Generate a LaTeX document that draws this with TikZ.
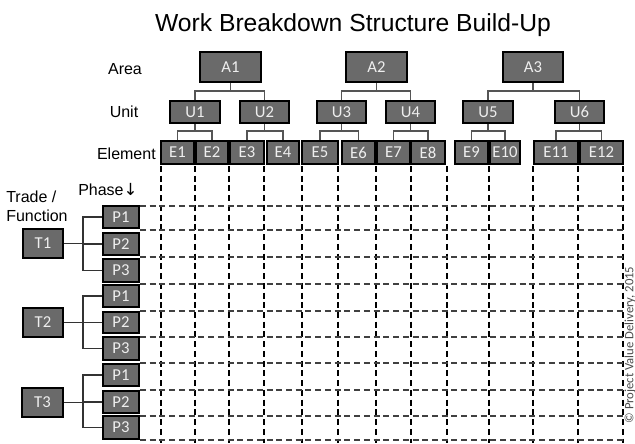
\documentclass[tikz,border=0pt]{standalone}
\usepackage{fontspec}
\setmainfont{Liberation Sans}
\newfontfamily\boxfont{Carlito}
\newfontfamily\arrfont{DejaVu Sans}
\definecolor{boxgray}{RGB}{106,106,106}
\definecolor{boxtext}{RGB}{238,238,238}
\definecolor{linegray}{RGB}{85,85,85}
\newcommand\wbsbox[6]{\node[bx,minimum width={(#4-#2)*0.75pt},minimum height={(#5-#3)*0.75pt}] (#1) at ({(#2+#4)/2},{(#3+#5)/2}) {#6};}
\begin{document}
\begin{tikzpicture}[x=0.75pt,y=-0.75pt,
 bx/.style={draw=black,fill=boxgray,line width=1.4pt,inner sep=0pt,text=boxtext,font=\boxfont\fontsize{12.5}{14}\selectfont},
 conn/.style={draw=linegray,line width=0.8pt},
 tconn/.style={draw=black!80,line width=0.8pt},
 lbl/.style={font=\fontsize{12}{14.25}\selectfont,inner sep=0pt},
 vgrid/.style={draw=black,line width=0.9pt,dash pattern=on 4.5pt off 2.8pt},
 hgrid/.style={draw=black!75,line width=0.9pt,dash pattern=on 4.5pt off 2.8pt}]
\useasboundingbox[fill=white] (0,0) rectangle (635,443);

% grid
\foreach \x in {161,195,229,264,302,338,376,411,447,489,533,578,623}
  \draw[vgrid] (\x,166) -- (\x,443);
\foreach \y in {206,230,257,284,311,337,363,390,416,440}
  \draw[hgrid] (140,\y) -- (623,\y);

% title and labels
\node[font=\fontsize{18.5}{22}\selectfont,inner sep=0pt] (title) at (353,25) {Work Breakdown Structure Build-Up};
\node[lbl] (area) at (125,69) {Area};
\node[lbl] (unit) at (124,112) {Unit};
\node[lbl,anchor=east] (elem) at (156,154) {Element};
\node[lbl,align=left,anchor=west] (trade) at (6,206.5) {Trade /\\Function};
\node[lbl,anchor=west] (phase) at (78,189) {Phase{\arrfont\fontsize{12.5}{12}\selectfont ↓}};
\node[rotate=90,font=\boxfont\fontsize{9.5}{11}\selectfont,text=black!70,inner sep=0pt] (copy) at (630,345) {© Project Value Delivery, 2015};

% areas
\wbsbox{A1}{200}{52}{261}{82}{A1}
\wbsbox{A2}{346}{52}{407}{82}{A2}
\wbsbox{A3}{503}{52}{563}{82}{A3}
% units
\wbsbox{U1}{170}{101}{220}{123}{U1}
\wbsbox{U2}{240}{101}{289}{123}{U2}
\wbsbox{U3}{317}{101}{366}{123}{U3}
\wbsbox{U4}{386}{101}{435}{123}{U4}
\wbsbox{U5}{463}{101}{513}{123}{U5}
\wbsbox{U6}{555}{101}{604}{123}{U6}
% elements
\wbsbox{E1}{161}{141}{194}{164}{E1}
\wbsbox{E2}{196}{141}{228}{164}{E2}
\wbsbox{E3}{230}{141}{264}{164}{E3}
\wbsbox{E4}{267}{141}{299}{164}{E4}
\wbsbox{E5}{302}{141}{338}{164}{E5}
\wbsbox{E6}{342}{141}{375}{164}{E6}
\wbsbox{E7}{377}{141}{410}{164}{E7}
\wbsbox{E8}{411}{141}{445}{164}{E8}
\wbsbox{E9}{455}{141}{488}{164}{E9}
\wbsbox{E10}{490}{141}{520}{164}{E10}
\wbsbox{E11}{534}{141}{578}{164}{E11}
\wbsbox{E12}{580}{141}{623}{164}{E12}
% trades
\wbsbox{T1}{23}{229}{63}{258}{T1}
\wbsbox{T2}{23}{308}{63}{337}{T2}
\wbsbox{T3}{22}{388}{63}{417}{T3}
% phases
\wbsbox{T1P1}{103}{206}{139}{228}{P1}
\wbsbox{T1P2}{103}{233}{139}{255}{P2}
\wbsbox{T1P3}{103}{259}{139}{282}{P3}
\wbsbox{T2P1}{103}{285}{139}{307}{P1}
\wbsbox{T2P2}{103}{312}{139}{333}{P2}
\wbsbox{T2P3}{103}{337}{139}{360}{P3}
\wbsbox{T3P1}{103}{364}{139}{386}{P1}
\wbsbox{T3P2}{103}{391}{139}{413}{P2}
\wbsbox{T3P3}{103}{416}{139}{439}{P3}

% area -> unit connectors
\coordinate (ka1) at (230.5,91);
\coordinate (ka2) at (376.5,91);
\coordinate (ka3) at (533,91);
\draw[conn] (U1.north) |- (ka1) -| (U2.north);
\draw[conn] (A1) -- (ka1);
\draw[conn] (U3.north) |- (ka2) -| (U4.north);
\draw[conn] (A2) -- (ka2);
\draw[conn] (U5.north) |- (ka3) -| (U6.north);
\draw[conn] (A3) -- (ka3);

% unit -> element connectors
\coordinate (ku1) at (195,131);
\coordinate (ku2) at (264.5,131);
\coordinate (ku3) at (341.5,131);
\coordinate (ku4) at (410.5,131);
\coordinate (ku5) at (488,131);
\coordinate (ku6) at (579.5,131);
\draw[conn] (E1.north) |- (ku1) -| (E2.north);  \draw[conn] (U1) -- (ku1);
\draw[conn] (E3.north) |- (ku2) -| (E4.north);  \draw[conn] (U2) -- (ku2);
\draw[conn] (E5.north) |- (ku3) -| (E6.north);  \draw[conn] (U3) -- (ku3);
\draw[conn] (E7.north) |- (ku4) -| (E8.north);  \draw[conn] (U4) -- (ku4);
\draw[conn] (E9.north) |- (ku5) -| (E10.north); \draw[conn] (U5) -- (ku5);
\draw[conn] (E11.north) |- (ku6) -| (E12.north); \draw[conn] (U6) -- (ku6);

% trade -> phase connectors
\foreach \t in {1,2,3}{
  \coordinate (kt\t) at (83,0);
  \draw[tconn] (T\t P1.west) -| (kt\t |- T\t P2.west) |- (T\t P3.west);
  \draw[tconn] (T\t.east) -- (T\t.east -| T\t P2.west);
  \draw[tconn] (kt\t |- T\t P2.west) -- (T\t P2.west);
}
\end{tikzpicture}
\end{document}
